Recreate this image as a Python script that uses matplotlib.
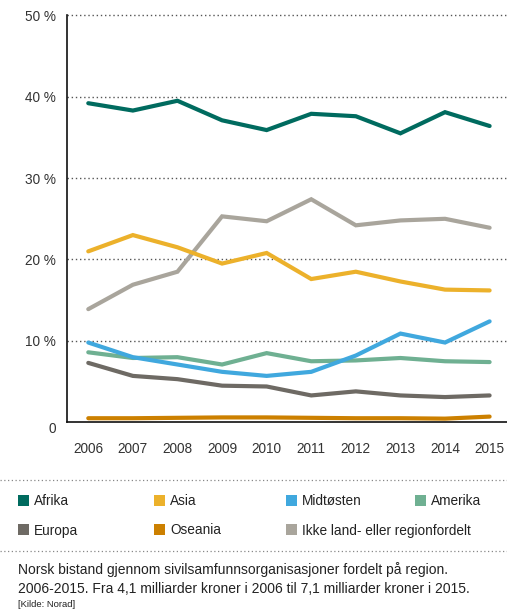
import matplotlib
matplotlib.use("Agg")
import matplotlib.pyplot as plt
from matplotlib.patches import Rectangle
from matplotlib.lines import Line2D

plt.rcParams['font.family'] = ['Liberation Sans', 'DejaVu Sans']

years = [2006, 2007, 2008, 2009, 2010, 2011, 2012, 2013, 2014, 2015]
afrika = [39.2, 38.3, 39.5, 37.1, 35.9, 37.9, 37.6, 35.5, 38.1, 36.4]
asia = [21.0, 23.0, 21.5, 19.5, 20.8, 17.6, 18.5, 17.3, 16.3, 16.2]
midtosten = [9.8, 8.0, 7.1, 6.2, 5.7, 6.2, 8.2, 10.9, 9.8, 12.4]
amerika = [8.6, 7.9, 8.0, 7.1, 8.5, 7.5, 7.6, 7.9, 7.5, 7.4]
europa = [7.3, 5.7, 5.3, 4.5, 4.4, 3.3, 3.8, 3.3, 3.1, 3.3]
oseania = [0.5, 0.5, 0.55, 0.6, 0.6, 0.55, 0.5, 0.5, 0.45, 0.7]
ikke = [13.9, 16.9, 18.5, 25.3, 24.7, 27.4, 24.2, 24.8, 25.0, 23.9]

series_names = ["Afrika", "Asia", "Midtøsten", "Amerika", "Europa", "Oseania",
                "Ikke land- eller regionfordelt"]
series_values = [afrika, asia, midtosten, amerika, europa, oseania, ikke]
colors = ["#006b5f", "#ecb12b", "#40a8de", "#6fb092", "#6e6a64", "#cc8000", "#a9a59c"]

y_ticks = [0, 10, 20, 30, 40, 50]
y_tick_labels = ["0", "10 %", "20 %", "30 %", "40 %", "50 %"]

caption1 = "Norsk bistand gjennom sivilsamfunnsorganisasjoner fordelt på region."
caption2 = "2006-2015. Fra 4,1 milliarder kroner i 2006 til 7,1 milliarder kroner i 2015."
source = "[Kilde: Norad]"

W, H = 507, 613
fig = plt.figure(figsize=(W / 100, H / 100), dpi=100)
ax = fig.add_axes([66.7 / W, 1 - 422.3 / H, (507 - 66.7) / W, (422.3 - 15.3) / H])

draw_order = [6, 5, 4, 3, 2, 1, 0]
for i in draw_order:
    ax.plot(years, series_values[i], color=colors[i], lw=3.0,
            solid_capstyle='round', solid_joinstyle='miter', zorder=3 + (6 - i) * 0.01)

ax.set_xlim(2006 - 0.484, 2015 + 0.39)
ax.set_ylim(0, 50)
ax.set_xticks(years)
ax.set_xticklabels([str(y) for y in years])
ax.set_yticks(y_ticks)
ax.set_yticklabels(y_tick_labels)
for y in y_ticks[1:]:
    ax.axhline(y, color="#555555", lw=1.0, ls=(0, (1, 2)), zorder=1, clip_on=False)

for s in ["top", "right"]:
    ax.spines[s].set_visible(False)
for s in ["left", "bottom"]:
    ax.spines[s].set_color("#111111")
    ax.spines[s].set_linewidth(1.2)
ax.tick_params(axis='both', length=0, labelsize=9.8, colors="#333333")
ax.tick_params(axis='y', pad=8)
ax.tick_params(axis='x', pad=14)
for lbl in ax.get_yticklabels():
    if lbl.get_text() == "0":
        lbl.set_va("top")

for ypx in [479.5, 550.5]:
    fig.add_artist(Line2D([0, 1], [1 - ypx / H, 1 - ypx / H], color="#888888",
                          lw=0.9, ls=(0, (1, 2)), transform=fig.transFigure))

col_x = [18, 154, 286, 415]
row_y = [500, 529.5]
for idx, (name, c) in enumerate(zip(series_names, colors)):
    r, cidx = divmod(idx, 4)
    x0 = col_x[cidx]
    yc = row_y[r]
    fig.add_artist(Rectangle((x0 / W, 1 - (yc + 5.5) / H), 11 / W, 11 / H,
                             transform=fig.transFigure, color=c, lw=0))
    fig.text((x0 + 16) / W, 1 - (yc + 5) / H, name, fontsize=9.8, color="#222222",
             va="baseline", ha="left")

fig.text(18 / W, 1 - 574 / H, caption1, fontsize=10, color="#222222", va="baseline")
fig.text(18 / W, 1 - 593 / H, caption2, fontsize=10, color="#222222", va="baseline")
fig.text(18 / W, 1 - 607 / H, source, fontsize=6.8, color="#222222", va="baseline")

fig.savefig("out.png", dpi=100)
